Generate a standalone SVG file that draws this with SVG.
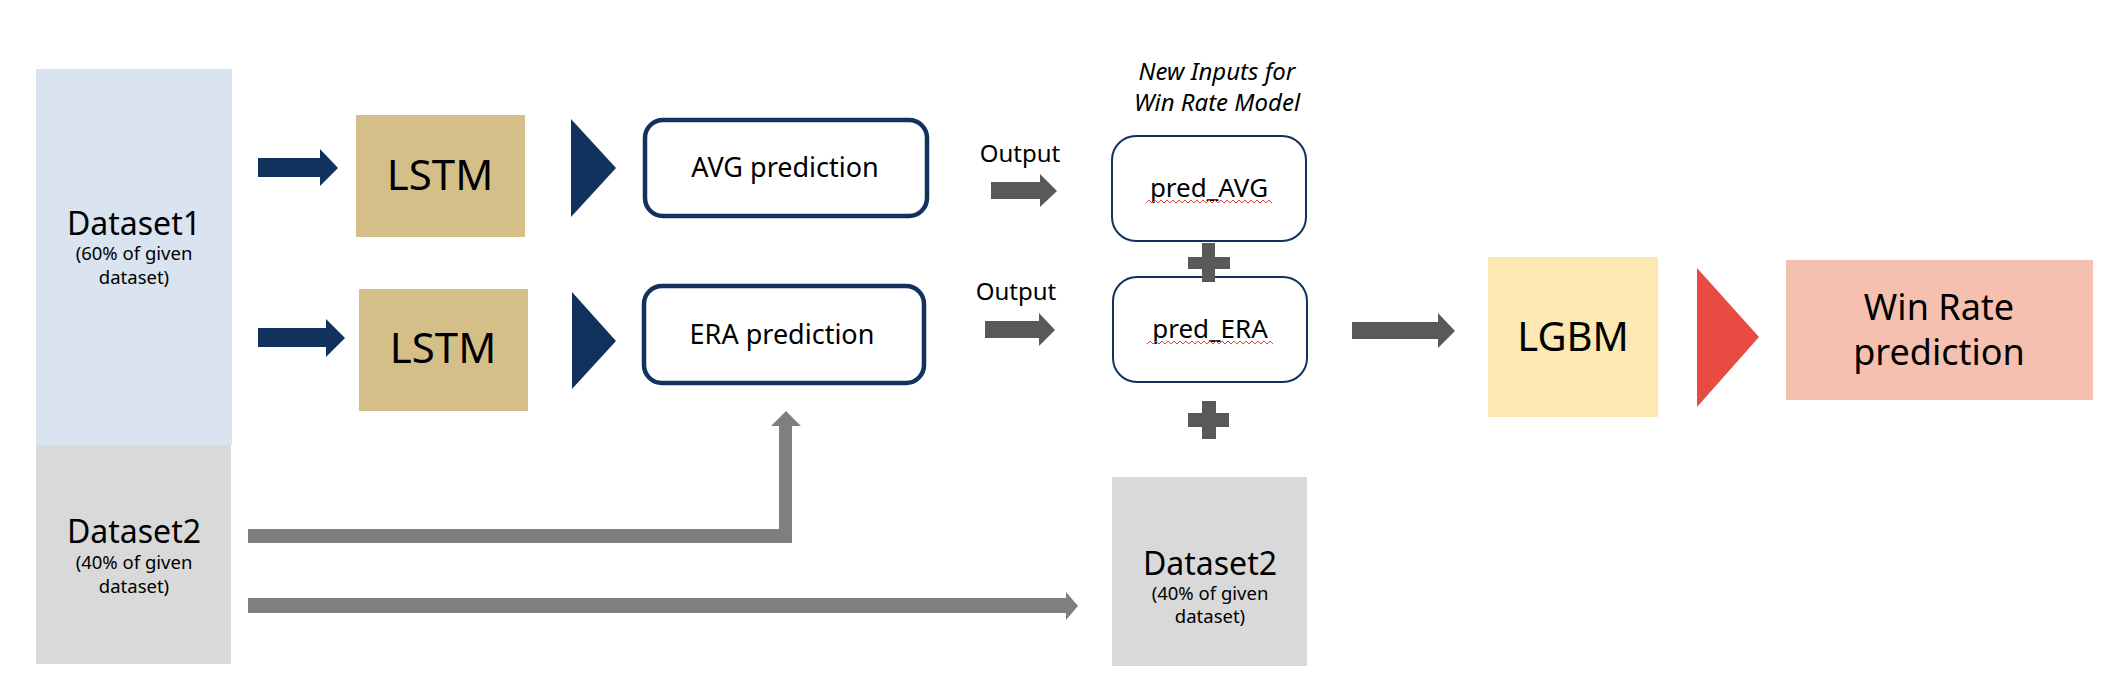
<svg xmlns="http://www.w3.org/2000/svg" width="2128" height="696" viewBox="0 0 2128 696">
<style>
text{font-family:"Noto Sans","DejaVu Sans",sans-serif;fill:#000;text-anchor:middle}
.big{font-size:32px}
.sub{font-size:18.5px}
.lstm{font-size:42px}
.pred{font-size:27px}
.out{font-size:24px}
.inp{font-size:26px}
.note{font-size:24px;font-style:italic}
.navy{fill:#12325e}
.dg{fill:#595959}
.lg{fill:#7f7f7f}
.rbox{fill:#fff;stroke:#12325e;stroke-width:4.5}
.ibox{fill:#fff;stroke:#12325e;stroke-width:2}
</style>
<rect width="2128" height="696" fill="#fff"/>

<g id="dataset1">
<rect x="36" y="69" width="196" height="376" fill="#dae3f0"/>
<text class="big" x="134" y="235">Dataset1</text>
<text class="sub" x="134" y="260">(60% of given</text>
<text class="sub" x="134" y="284">dataset)</text>
</g>
<g id="dataset2">
<rect x="36" y="445" width="195" height="219" fill="#d9d9d9"/>
<text class="big" x="134" y="543">Dataset2</text>
<text class="sub" x="134" y="569">(40% of given</text>
<text class="sub" x="134" y="593">dataset)</text>
</g>
<g id="lstm1">
<rect x="356" y="115" width="169" height="122" fill="#d5bf88"/>
<text class="lstm" x="440" y="190">LSTM</text>
</g>
<g id="lstm2">
<rect x="359" y="289" width="169" height="122" fill="#d5bf88"/>
<text class="lstm" x="443" y="363">LSTM</text>
</g>
<g id="avg-prediction">
<rect class="rbox" x="645" y="120" width="282" height="96" rx="18"/>
<text class="pred" x="785" y="177">AVG prediction</text>
</g>
<g id="era-prediction">
<rect class="rbox" x="644" y="286" width="280" height="97" rx="18"/>
<text class="pred" x="782" y="344">ERA prediction</text>
</g>
<g id="new-inputs-label">
<text class="note" x="1217" y="80">New Inputs for</text>
<text class="note" x="1217" y="111">Win Rate Model</text>
</g>
<g id="pred-avg">
<rect class="ibox" x="1112" y="136" width="194" height="105" rx="24"/>
<text class="inp" x="1209" y="197">pred_AVG</text>
<path d="M1146 203 l3 -3 l3 3 l3 -3 l3 3 l3 -3 l3 3 l3 -3 l3 3 l3 -3 l3 3 l3 -3 l3 3 l3 -3 l3 3 l3 -3 l3 3 l3 -3 l3 3 l3 -3 l3 3 l3 -3 l3 3 l3 -3 l3 3 l3 -3 l3 3 l3 -3 l3 3 l3 -3 l3 3 l3 -3 l3 3 l3 -3 l3 3 l3 -3 l3 3 l3 -3 l3 3 l3 -3 l3 3 l3 -3 l3 3" fill="none" stroke="#e8453c" stroke-width="1"/>
</g>
<g id="pred-era">
<rect class="ibox" x="1113" y="277" width="194" height="105" rx="24"/>
<text class="inp" x="1210" y="338">pred_ERA</text>
<path d="M1147 344 l3 -3 l3 3 l3 -3 l3 3 l3 -3 l3 3 l3 -3 l3 3 l3 -3 l3 3 l3 -3 l3 3 l3 -3 l3 3 l3 -3 l3 3 l3 -3 l3 3 l3 -3 l3 3 l3 -3 l3 3 l3 -3 l3 3 l3 -3 l3 3 l3 -3 l3 3 l3 -3 l3 3 l3 -3 l3 3 l3 -3 l3 3 l3 -3 l3 3 l3 -3 l3 3 l3 -3 l3 3 l3 -3 l3 3" fill="none" stroke="#e8453c" stroke-width="1"/>
</g>
<g id="dataset2-copy">
<rect x="1112" y="477" width="195" height="189" fill="#d9d9d9"/>
<text class="big" x="1210" y="575">Dataset2</text>
<text class="sub" x="1210" y="600">(40% of given</text>
<text class="sub" x="1210" y="623">dataset)</text>
</g>
<g id="lgbm">
<rect x="1488" y="257" width="170" height="160" fill="#fce8b2"/>
<text x="1573" y="351" style="font-size:40px">LGBM</text>
</g>
<g id="win-rate">
<rect x="1786" y="260" width="307" height="140" fill="#f6c0b0"/>
<text x="1939" y="320" style="font-size:36px">Win Rate</text>
<text x="1939" y="365" style="font-size:36px">prediction</text>
</g>

<g id="connectors">
<polygon class="navy" points="258,158 320,158 320,149 338,168 320,186 320,177 258,177"/>
<polygon class="navy" points="258,328 326,328 326,319 345,338 326,357 326,347 258,347"/>
<polygon class="navy" points="571,119 616,168 571,217"/>
<polygon class="navy" points="572,292 616,341 572,389"/>
<text class="out" x="1020" y="162">Output</text>
<polygon class="dg" points="991,182 1040,182 1040,174 1057,191 1040,207 1040,199 991,199"/>
<text class="out" x="1016" y="300">Output</text>
<polygon class="dg" points="985,321 1039,321 1039,313 1055,330 1039,346 1039,338 985,338"/>
<path class="dg" d="M1202 243h13v14h15v12h-15v13h-13v-13h-14v-12h14z"/>
<path class="dg" d="M1202 401h14v12h13v14h-13v12h-14v-12h-14v-14h14z"/>
<polygon class="dg" points="1352,322 1438,322 1438,313 1455,331 1438,348 1438,339 1352,339"/>
<polygon fill="#e84b42" points="1697,268 1759,337 1697,407"/>
<polygon class="lg" points="248,529 779,529 779,426 771,426 786,411 801,426 792,426 792,543 248,543"/>
<polygon class="lg" points="248,598 1066,598 1066,592 1078,606 1066,620 1066,613 248,613"/>
</g>
</svg>
